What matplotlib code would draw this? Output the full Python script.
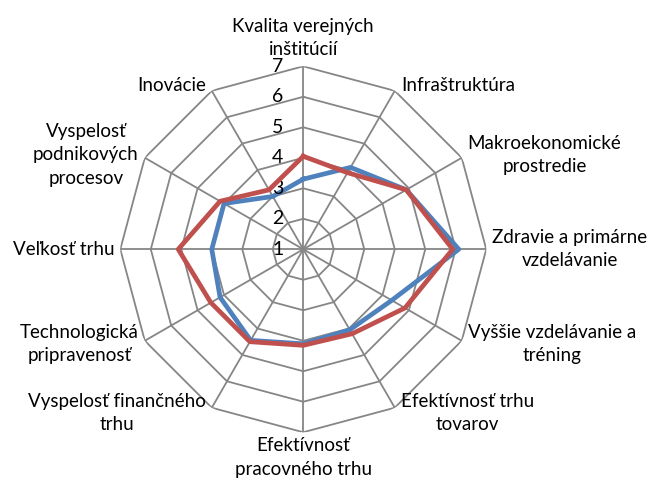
import matplotlib
matplotlib.use('Agg')
import matplotlib.pyplot as plt
import numpy as np

categories = [
  'Kvalita verejných\ninštitúcií',
  'Infraštruktúra',
  'Makroekonomické\nprostredie',
  'Zdravie a primárne\nvzdelávanie',
  'Vyššie vzdelávanie a\ntréning',
  'Efektívnosť trhu\ntovarov',
  'Efektívnosť\npracovného trhu',
  'Vyspelosť finančného\ntrhu',
  'Technologická\npripravenosť',
  'Veľkosť trhu',
  'Vyspelosť\npodnikových\nprocesov',
  'Inovácie',
]
blueValues = [3.3, 4.1, 4.9, 6.1, 4.35, 4.05, 4.1, 4.45, 4.15, 4.0, 4.0, 3.0]
redValues = [4.05, 3.9, 4.9, 5.9, 4.85, 4.2, 4.15, 4.5, 4.5, 5.1, 4.15, 3.25]
ticks = [1, 2, 3, 4, 5, 6, 7]

plt.rcParams['font.family'] = ['Lato', 'DejaVu Sans']

gridColor = '#868686'
blueColor = '#4F81BD'
redColor = '#C0504D'

fig = plt.figure(figsize=(6.57, 4.88), dpi=100)
ax = fig.add_axes([0.1831, 0.1142, 0.557, 0.75], projection='polar')
ax.set_theta_zero_location('N')
ax.set_theta_direction(-1)
ax.set_ylim(ticks[0], ticks[-1])
ax.grid(False)
ax.spines['polar'].set_visible(False)
ax.set_xticks([])
ax.set_yticks([])
ax.patch.set_visible(False)

n = len(categories)
angles = np.arange(n) * 2 * np.pi / n
closed = np.append(angles, angles[0])

# polygon rings
for t in ticks[1:]:
  ax.plot(closed, [t] * (n + 1), color=gridColor, lw=1.3, zorder=1)
# spokes
for a in angles:
  ax.plot([a, a], [ticks[0], ticks[-1]], color=gridColor, lw=1.3, zorder=1)

ax.plot(closed, blueValues + blueValues[:1], color=blueColor, lw=3.4, zorder=3)
ax.plot(closed, redValues + redValues[:1], color=redColor, lw=3.4, zorder=4)

# value labels along the top spoke
for t in ticks:
  ax.annotate(str(t), xy=(0, t), xytext=(-20, 0), textcoords='offset pixels',
    ha='right', va='center', fontsize=14, color='black')

# category labels
for a, label in zip(angles, categories):
  s = np.sin(a)
  c = np.cos(a)
  if abs(s) < 1e-6:
    ha = 'center'
  elif s > 0:
    ha = 'left'
  else:
    ha = 'right'
  if c > 0.99:
    va = 'bottom'
    dy = 8
  elif c < -0.99:
    va = 'top'
    dy = -5
  else:
    va = 'center'
    dy = 6 * c
  dx = 6 * np.sign(s) if abs(s) > 1e-6 else 0
  ax.annotate(label, xy=(a, ticks[-1]), xytext=(dx, dy), textcoords='offset pixels',
    ha=ha, va=va, multialignment='center', fontsize=13.5, color='black',
    linespacing=1.45, annotation_clip=False)

plt.savefig('out.png', dpi=100)
